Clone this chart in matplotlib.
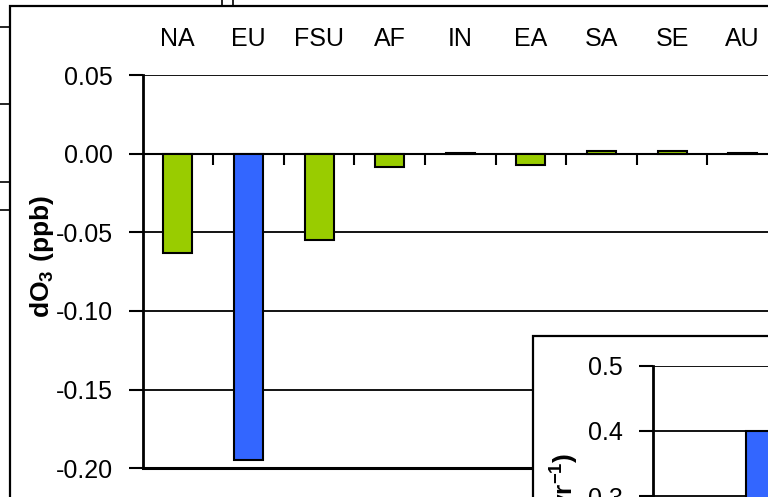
import matplotlib
matplotlib.use("Agg")
import matplotlib.pyplot as plt
from matplotlib.patches import Rectangle
from matplotlib.lines import Line2D
import numpy as np

plt.rcParams['font.family'] = ['Liberation Sans', 'DejaVu Sans']
plt.rcParams['mathtext.fontset'] = 'custom'
plt.rcParams['mathtext.rm'] = 'Liberation Sans'
plt.rcParams['mathtext.bf'] = 'Liberation Sans:bold'
plt.rcParams['axes.unicode_minus'] = False

# regional ozone response (ppb)
regions = ['NA', 'EU', 'FSU', 'AF', 'IN', 'EA', 'SA', 'SE', 'AU']
dO3 = [-0.063, -0.195, -0.055, -0.008, 0.0008, -0.007, 0.002, 0.002, 0.0009]
bar_colors = ['#99CC00', '#3366FF', '#99CC00', '#99CC00', '#99CC00',
              '#99CC00', '#99CC00', '#99CC00', '#99CC00']
yticks = [0.05, 0.00, -0.05, -0.10, -0.15, -0.20]

# inset: emission change
inset_vals = [0.40]
inset_yticks = [0.5, 0.4, 0.3]

W, H = 768, 497
fig = plt.figure(figsize=(W / 100, H / 100), dpi=100)

def fx(px):
    return px / W

def fy(py):
    return 1 - py / H

FS = 18

# main chart
ax = fig.add_axes([fx(142.5), fy(468), (778 - 142.5) / W, (468 - 75.5) / H])
centers = np.arange(len(regions)) + 0.5
ax.bar(centers, dO3, width=0.41, color=bar_colors, edgecolor='black',
       linewidth=1.5, zorder=3)
ax.set_xlim(0, len(regions))
ax.set_ylim(min(yticks), max(yticks))
ax.set_yticks(yticks)
ax.set_yticklabels(['%.2f' % v for v in yticks], fontsize=FS)
ax.yaxis.grid(True, color='black', linewidth=1.3)
ax.set_axisbelow(True)
ax.tick_params(axis='y', direction='out', length=10, width=1.5, pad=11.5)

ax.set_xticks(centers)
ax.set_xticklabels(regions, fontsize=FS)
ax.xaxis.set_ticks_position('top')
ax.tick_params(axis='x', length=0, pad=17.5)

for s in ['top', 'right']:
    ax.spines[s].set_visible(False)
ax.spines['left'].set_linewidth(2)
ax.spines['bottom'].set_linewidth(2.2)

# category axis crossing at zero, with ticks between categories
zero_ax = ax.secondary_xaxis(0, transform=ax.transData)
zero_ax.set_xticks(np.arange(1, len(regions)))
zero_ax.tick_params(direction='in', length=8, width=1.5, labeltop=False,
                    labelbottom=False, top=True, bottom=False)
for s in zero_ax.spines.values():
    s.set_linewidth(1.5)

fig.text(fx(42), fy(256), r'$\mathbf{dO_3\ (ppb)}$', rotation=90,
         ha='center', va='center', fontsize=19)

# chart area border
fig.patches.append(Rectangle((fx(10), -0.2), 1.2, fy(6) + 0.2,
                             transform=fig.transFigure, fill=False,
                             edgecolor='black', linewidth=1.6, zorder=1))
# edges of the neighbouring panels
for py in [27, 104, 182, 210]:
    fig.lines.append(Line2D([0, fx(10)], [fy(py), fy(py)],
                            transform=fig.transFigure, color='black', lw=1.2))
for px in [222, 233]:
    fig.lines.append(Line2D([fx(px), fx(px)], [1, fy(6)],
                            transform=fig.transFigure, color='black', lw=1.2))

# inset panel
fig.patches.append(Rectangle((fx(533), -0.5), 1.0, fy(336) + 0.5,
                             transform=fig.transFigure, facecolor='white',
                             edgecolor='black', linewidth=1.6, zorder=2))
ax2 = fig.add_axes([fx(653), fy(692), 227 / W, (692 - 365.7) / H], zorder=3)
ax2.bar([0], inset_vals, width=0.6, color='#3366FF', edgecolor='black',
        linewidth=1.5, zorder=3)
ax2.set_xlim(-1.2, 1.0)
ax2.set_ylim(0, 0.5)
ax2.set_yticks(inset_yticks)
ax2.set_yticklabels(['%.1f' % v for v in inset_yticks], fontsize=FS)
ax2.yaxis.grid(True, color='black', linewidth=1.3)
ax2.set_axisbelow(True)
ax2.set_xticks([])
ax2.tick_params(axis='y', direction='out', length=10, width=1.5, pad=11.5)
for s in ['top', 'right', 'bottom']:
    ax2.spines[s].set_visible(False)
ax2.spines['left'].set_linewidth(2)

fig.text(fx(565), fy(453), r'$\mathbf{yr^{-1})}$', rotation=90,
         ha='center', va='top', fontsize=19, zorder=4)

fig.savefig('out.png', dpi=100)
